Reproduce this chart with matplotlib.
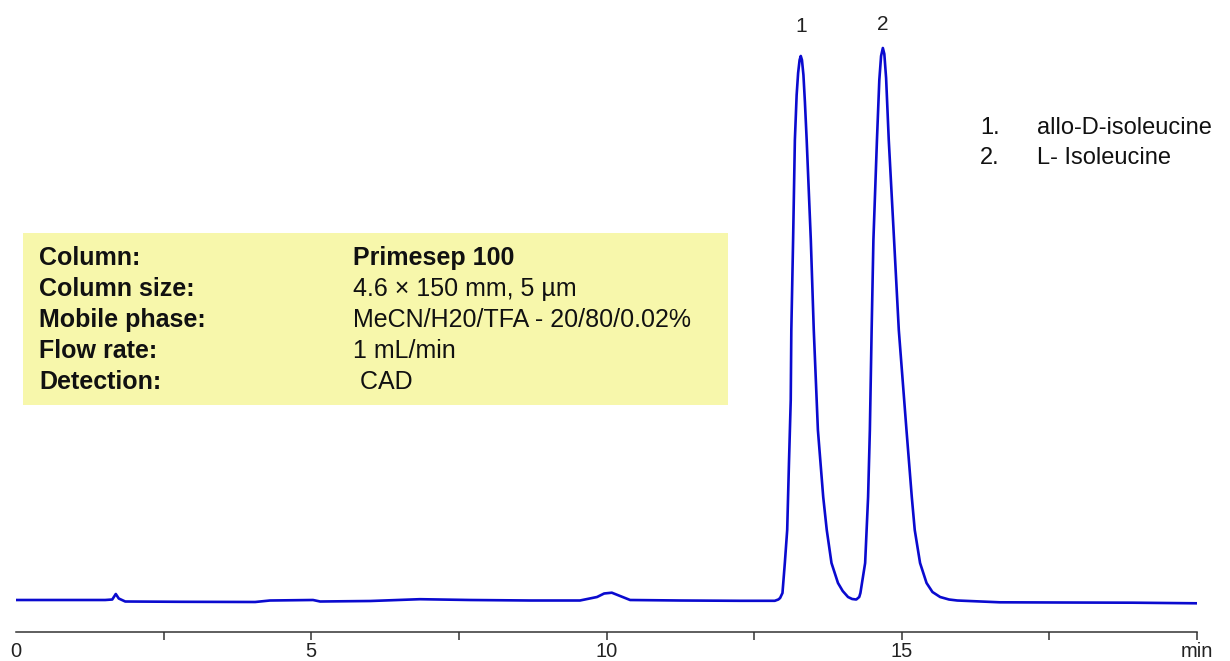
import numpy as np
import matplotlib
matplotlib.use('Agg')
import matplotlib.pyplot as plt
from matplotlib.patches import Rectangle

plt.rcParams['font.family'] = ['Liberation Sans', 'DejaVu Sans']

# chromatogram trace (time in min, detector signal in arbitrary units)
time_min = [0.00, 0.75, 1.51, 1.63, 1.69, 1.74, 1.85, 2.78, 4.05, 4.30,
            5.03, 5.15, 6.00, 6.84, 7.69, 8.71, 9.55, 9.84, 9.96, 10.09,
            10.23, 10.40, 11.25, 12.26, 12.85, 12.91, 12.94, 12.98, 13.02, 13.06,
            13.09, 13.12, 13.13, 13.16, 13.19, 13.22, 13.245, 13.27, 13.29, 13.31,
            13.335, 13.36, 13.39, 13.46, 13.51, 13.58, 13.67, 13.73, 13.81, 13.92,
            14.00, 14.09, 14.16, 14.23, 14.28, 14.30, 14.38, 14.43, 14.46, 14.49,
            14.52, 14.58, 14.62, 14.65, 14.68, 14.705, 14.735, 14.78, 14.87, 14.95,
            15.08, 15.17, 15.22, 15.31, 15.42, 15.52, 15.65, 15.80, 15.94, 16.66,
            17.68, 18.92, 20.00]
signal = [0, 0, 0, 0.5, 6, 1.5, -1.5, -1.8, -2, -0.5,
          0, -1.5, -1, 0.8, 0, -0.5, -0.5, 3, 6.5, 7.3,
          4, 0, -0.5, -0.8, -0.8, 0.5, 2, 7, 37, 70,
          137, 200, 270, 360, 460, 505, 527, 540, 544, 540,
          525, 498, 460, 360, 270, 170, 103, 70, 37, 17,
          9, 3, 1, 0.5, 3, 7, 37, 103, 170, 270,
          360, 460, 520, 544, 552, 546, 522, 460, 360, 270,
          170, 103, 70, 37, 17, 8, 3, 0.5, -0.5, -2.3,
          -2.5, -2.7, -3.3]

peak_times = [13.29, 14.68]
peak_label_heights = [573, 576]
peak_labels = ['1', '2']

compounds = ['allo-D-isoleucine', 'L- Isoleucine']

cond_names = ['Column:', 'Column size:', 'Mobile phase:', 'Flow rate:', 'Detection:']
cond_values = ['Primesep 100', '4.6 × 150 mm, 5 µm', 'MeCN/H20/TFA - 20/80/0.02%',
               '1 mL/min', ' CAD']

xticks = [0, 2.5, 5, 7.5, 10, 12.5, 15, 17.5, 20]
xticklabels = ['0', '', '5', '', '10', '', '15', '', 'min']

fig = plt.figure(figsize=(12.3, 6.61), dpi=100)
ax = fig.add_axes([16/1230, 29/661, 1181/1230, 632/661])

ax.plot(time_min, signal, color='#0A0ACF', lw=1.9, solid_joinstyle='round')
ax.set_xlim(0, 20)
ax.set_ylim(-32, 600)

for t, h, lab in zip(peak_times, peak_label_heights, peak_labels):
    ax.text(t, h, lab, ha='center', va='center', fontsize=15, color='#222222')

# axis styling: only the bottom line with ticks
for side in ['left', 'right', 'top']:
    ax.spines[side].set_visible(False)
ax.spines['bottom'].set_linewidth(1.1)
ax.spines['bottom'].set_color('#333333')
ax.set_yticks([])
ax.set_xticks(xticks)
ax.set_xticklabels(xticklabels)
ax.tick_params(axis='x', direction='out', length=6, width=1.1, pad=1.5,
               labelsize=14.5, colors='#333333', labelcolor='#222222')
ax.xaxis.get_major_ticks()[0].tick1line.set_visible(False)

# conditions box
ax.add_patch(Rectangle((0.006, 0.359), 0.597, 0.272, transform=ax.transAxes,
                       facecolor='#F7F7AB', edgecolor='none', zorder=0))
for i, (name, val) in enumerate(zip(cond_names, cond_values)):
    yb = 0.5807 - i * 0.049
    ax.text(0.0195, yb, name, transform=ax.transAxes, fontsize=18,
            fontweight='bold', va='baseline', ha='left', color='#111111')
    ax.text(0.2854, yb, val, transform=ax.transAxes, fontsize=18,
            fontweight='bold' if i == 0 else 'normal', va='baseline', ha='left',
            color='#111111')

# compound list
for i, name in enumerate(compounds):
    yb = 0.788 - i * 0.047
    ax.text(0.8163, yb, f'{i + 1}.', transform=ax.transAxes, fontsize=17,
            va='baseline', ha='left', color='#111111')
    ax.text(0.8645, yb, name, transform=ax.transAxes, fontsize=17,
            va='baseline', ha='left', color='#111111')

fig.savefig('out.png', dpi=100, facecolor='white')
